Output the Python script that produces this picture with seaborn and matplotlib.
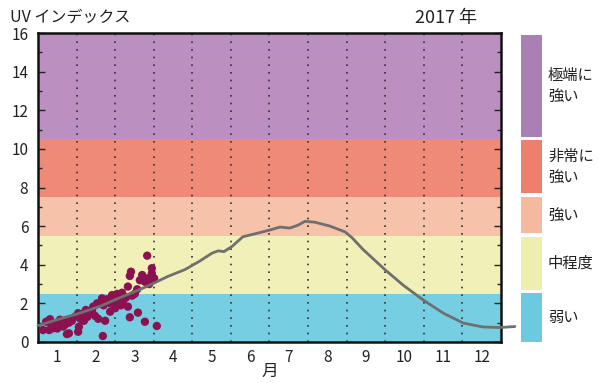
import matplotlib
matplotlib.use("Agg")
import matplotlib.pyplot as plt
from matplotlib.patches import Rectangle
import seaborn as sns
import pandas as pd

sns.set_style("white")
plt.rcParams['font.family'] = ['Noto Sans CJK JP', 'DejaVu Sans']

# ---- data ----
months = [1, 2, 3, 4, 5, 6, 7, 8, 9, 10, 11, 12]
yticks = [0, 2, 4, 6, 8, 10, 12, 14, 16]

# observed daily UV index (2017, Jan - mid Mar), x in months
obs_month = [0.63, 0.71, 0.79, 0.84, 0.91, 0.99, 1.07, 1.15, 1.23, 1.30, 1.30, 1.38,
             1.46, 1.54, 1.56, 1.54, 1.64, 1.69, 1.74, 1.82, 1.90, 1.93, 2.03, 1.98,
             2.06, 2.11, 2.16, 2.18, 2.24, 2.29, 2.37, 2.37, 2.42, 2.44, 2.55, 2.55,
             2.63, 2.68, 2.70, 2.78, 2.83, 2.83, 2.88, 2.88, 2.91, 3.07, 3.09, 3.14,
             3.20, 3.27, 3.27, 3.33, 3.35, 3.38, 3.45, 3.45, 3.51, 3.58, 3.01, 2.94,
             0.81, 0.90, 1.00, 1.20, 1.60, 1.78, 2.20, 2.50, 2.65, 1.25]
obs_uv = [0.62, 1.05, 0.62, 0.95, 0.85, 1.00, 1.15, 0.80, 1.14, 1.00, 0.45, 1.10,
          1.31, 1.49, 0.79, 0.53, 1.45, 1.10, 1.66, 1.50, 1.60, 1.83, 2.00, 1.35,
          1.20, 2.00, 2.26, 0.31, 1.10, 2.21, 1.57, 2.00, 2.43, 2.10, 2.49, 2.00,
          2.20, 2.55, 2.10, 2.30, 2.87, 1.83, 1.28, 3.42, 3.64, 2.73, 1.52, 3.20,
          3.47, 3.12, 1.05, 4.47, 3.30, 3.00, 3.82, 3.56, 3.30, 0.83, 2.50, 2.40,
          1.18, 0.71, 0.70, 0.90, 1.20, 1.30, 1.90, 1.75, 1.90, 0.41]

# climatological mean UV index
clim_month = [0.50, 1.07, 1.59, 2.11, 2.63, 3.14, 3.40, 3.87, 4.31, 4.70, 5.01, 5.17,
              5.32, 5.53, 5.81, 6.12, 6.51, 6.77, 7.03, 7.24, 7.42, 7.68, 8.07, 8.46,
              8.64, 8.92, 9.49, 9.96, 10.48, 11.00, 11.52, 12.03, 12.47, 12.86]
clim_uv = [0.85, 1.20, 1.50, 1.85, 2.30, 2.72, 2.95, 3.40, 3.75, 4.20, 4.60, 4.72,
           4.68, 4.95, 5.45, 5.60, 5.80, 5.95, 5.90, 6.05, 6.25, 6.20, 6.00, 5.70,
           5.40, 4.80, 3.75, 2.95, 2.18, 1.50, 0.98, 0.78, 0.75, 0.80]

# UV categories
cat_names = ['弱い', '中程度', '強い', '非常に\n強い', '極端に\n強い']
cat_lo = [0, 2.5, 5.5, 7.5, 10.5]
cat_hi = [2.5, 5.5, 7.5, 10.5, 16]
band_colors = ['#76cee3', '#f1f0b9', '#f7c2aa', '#f08a78', '#bb8fbf']
legend_colors = ['#6ccae0', '#eeeeae', '#f5b9a0', '#ee7f6c', '#a97fb4']

obs = pd.DataFrame({'month': obs_month, 'uv': obs_uv})
clim = pd.DataFrame({'month': clim_month, 'uv': clim_uv})

# ---- figure ----
W, H = 598, 383
fig = plt.figure(figsize=(W / 100, H / 100), dpi=100)
ax = fig.add_axes([38 / W, 1 - 342 / H, (501 - 38) / W, (342 - 33) / H])

for lo, hi, c in zip(cat_lo, cat_hi, band_colors):
    ax.axhspan(lo, hi, color=c, lw=0, zorder=0)

ax.vlines([m + 0.5 for m in months[:-1]], 0, 16, colors='#333333',
          linestyles=(0, (1, 3.6)), lw=1.2, zorder=1)

sns.scatterplot(data=obs, x='month', y='uv', ax=ax, color='#8c1150', s=36,
                edgecolor='none', zorder=3, legend=False)
sns.lineplot(data=clim, x='month', y='uv', ax=ax, color='#6f6f6f', lw=2,
             zorder=4, legend=False)
for l in ax.lines:
    l.set_clip_on(False)

ax.set_xlim(0.5, 12.5)
ax.set_ylim(0, 16)
ax.set_xticks(months)
ax.set_xticklabels([str(m) for m in months])
ax.set_yticks(yticks)
ax.set_yticks(list(range(1, 16, 2)), minor=True)
ax.tick_params(axis='x', length=0, pad=5, labelsize=11, colors='#222222')
ax.tick_params(axis='y', which='major', direction='in', length=5, width=1,
               left=True, right=True, labelsize=11, pad=7, colors='#222222')
ax.tick_params(axis='y', which='minor', direction='in', length=3, width=1,
               left=True, right=True)
ax.set_xlabel('月', fontsize=12, labelpad=-2, color='#222222')
ax.set_ylabel('')
for s in ax.spines.values():
    s.set_visible(True)
    s.set_color('#111111')
    s.set_linewidth(1.8)

fig.text(10 / W, 1 - 17 / H, 'UV インデックス', fontsize=11.5, va='center', ha='left',
         color='#222222')
fig.text(446 / W, 1 - 18 / H, '2017 年', fontsize=13, va='center', ha='center',
         color='#222222')

# legend bars
leg_top = [293, 237, 197, 140, 35]
leg_bot = [342, 290, 233, 193, 137]
for name, c, t, b in zip(cat_names, legend_colors, leg_top, leg_bot):
    fig.patches.append(Rectangle((521 / W, 1 - b / H), 21 / W, (b - t) / H,
                                 transform=fig.transFigure, color=c, lw=0))
    fig.text(548 / W, 1 - ((t + b) / 2) / H, name, fontsize=11, va='center',
             ha='left', color='#222222', linespacing=1.3)

fig.savefig('out.png', dpi=100)
